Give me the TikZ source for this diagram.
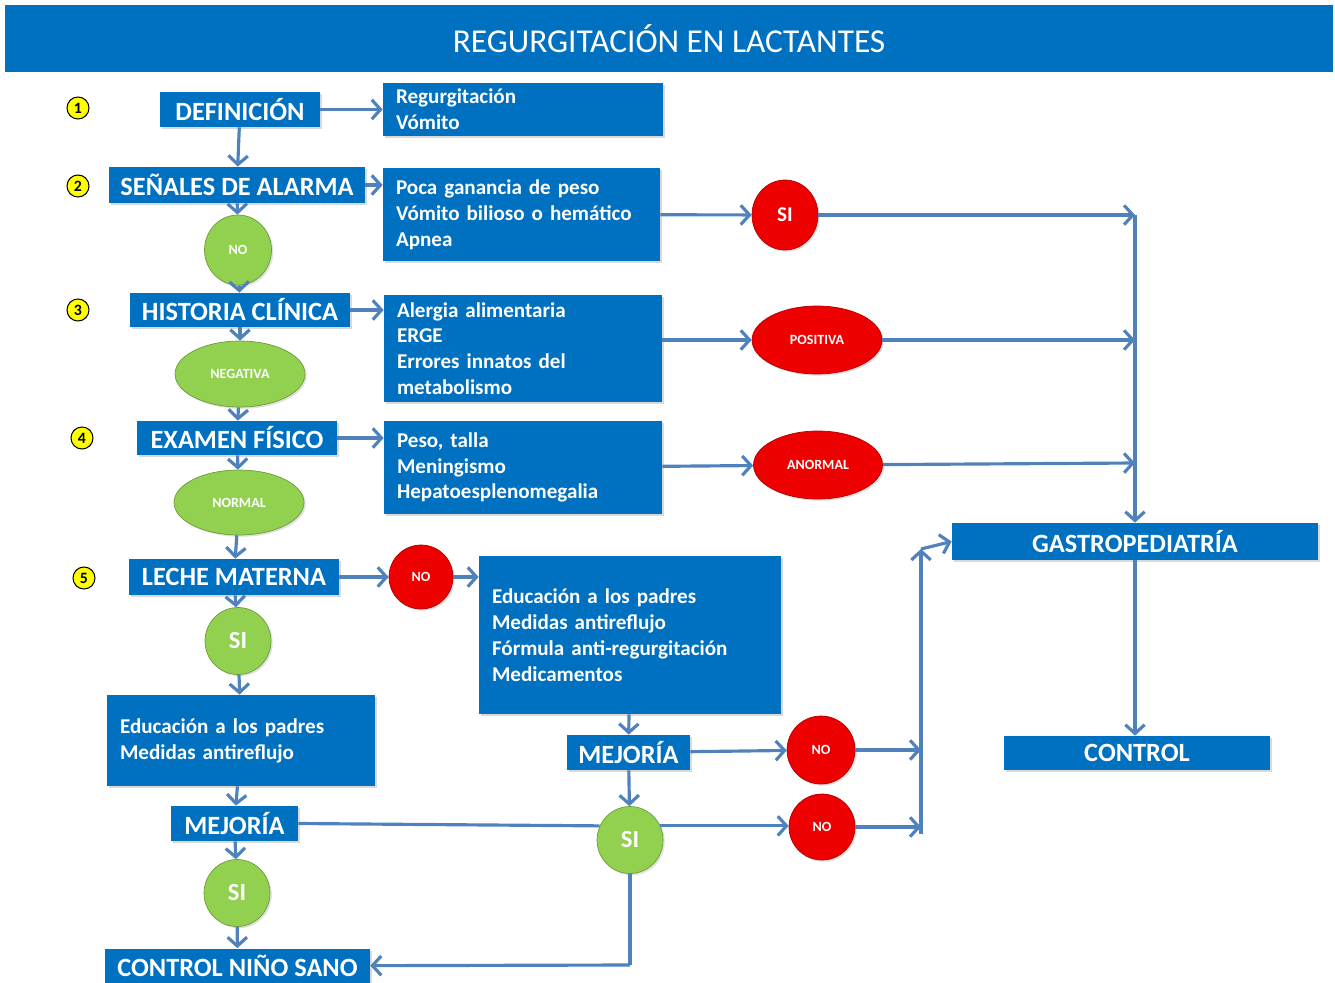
\documentclass[tikz,border=0pt]{standalone}
\usepackage{fontspec}
\setmainfont{Carlito}
\usetikzlibrary{arrows.meta,shapes.geometric,shadows}
\definecolor{boxblue}{RGB}{0,112,192}
\definecolor{arrblue}{RGB}{79,129,189}
\definecolor{okgreen}{RGB}{146,208,80}
\definecolor{badred}{RGB}{238,0,0}
\definecolor{numyellow}{RGB}{255,255,0}
\begin{document}
\begin{tikzpicture}[x=0.02cm,y=-0.02cm,
    hdr/.style={fill=boxblue,text=white,inner sep=0pt,font=\bfseries\fontsize{15}{18}\selectfont,
      drop shadow={shadow xshift=1.2pt,shadow yshift=-1.2pt,opacity=0.3}},
    lst/.style={fill=boxblue,text=white,inner ysep=0pt,inner xsep=0.26cm,align=left,
      font=\bfseries\fontsize{12}{14.7}\selectfont,
      drop shadow={shadow xshift=1.2pt,shadow yshift=-1.2pt,opacity=0.3}},
    yes/.style={ellipse,fill=okgreen,draw=okgreen!75!black,inner sep=0pt,text=white,
      drop shadow={shadow xshift=1pt,shadow yshift=-1pt,opacity=0.25}},
    nope/.style={ellipse,fill=badred,draw=badred!75!black,inner sep=0pt,text=white,
      drop shadow={shadow xshift=1pt,shadow yshift=-1pt,opacity=0.25}},
    num/.style={circle,fill=numyellow,draw=black,line width=0.6pt,inner sep=0pt,minimum size=0.44cm,
      font=\bfseries\fontsize{9}{9}\selectfont},
    arr/.style={draw=arrblue,line width=1.8pt,-{Straight Barb[length=5pt,width=11pt]}},
    lin/.style={draw=arrblue,line width=1.8pt},
    small/.style={font=\bfseries\fontsize{8}{8}\selectfont}]

    \useasboundingbox (0,0) rectangle (1335,983);

    \node[fill=boxblue,text=white,minimum width=26.56cm,minimum height=1.34cm,
      font=\fontsize{19}{22}\selectfont] (title) at (669,38.5) {REGURGITACIÓN EN LACTANTES};

    \node[num] (n1) at (78,108) {1};
    \node[num] (n2) at (78,186) {2};
    \node[num] (n3) at (78,310) {3};
    \node[num] (n4) at (82,438) {4};
    \node[num] (n5) at (84,578) {5};

    \node[hdr,minimum width=3.2cm,minimum height=0.7cm] (def) at (240,109.5) {DEFINICIÓN};
    \node[lst,text width=5.08cm,minimum height=1.06cm] (defl) at (523,109.5) {Regurgitación\\Vómito};

    \node[hdr,minimum width=5.12cm,minimum height=0.72cm] (alarm) at (237,185) {SEÑALES DE ALARMA};
    \node[lst,text width=5.02cm,minimum height=1.86cm] (alarml) at (521.5,214.5)
      {Poca ganancia de peso\\Vómito bilioso o hemático\\Apnea};
    \node[yes,small,minimum width=1.34cm,minimum height=1.4cm] (no1) at (238,250) {NO};

    \node[hdr,minimum width=4.4cm,minimum height=0.68cm] (hist) at (240,310) {HISTORIA CLÍNICA};
    \node[lst,text width=5.04cm,minimum height=2.14cm] (histl) at (523,348.5)
      {Alergia alimentaria\\ERGE\\Errores innatos del\\metabolismo};
    \node[yes,small,minimum width=2.6cm,minimum height=1.32cm] (neg) at (240,374) {NEGATIVA};

    \node[hdr,minimum width=4cm,minimum height=0.68cm] (exam) at (237,438) {EXAMEN FÍSICO};
    \node[lst,text width=5.04cm,minimum height=1.86cm] (examl) at (523,467.5)
      {Peso, talla\\Meningismo\\Hepatoesplenomegalia};
    \node[yes,small,minimum width=2.6cm,minimum height=1.3cm] (norm) at (239,502.5) {NORMAL};

    \node[hdr,minimum width=4.2cm,minimum height=0.72cm] (milk) at (234,577) {LECHE MATERNA};
    \node[nope,small,minimum width=1.28cm,minimum height=1.28cm] (no2) at (421,577) {NO};
    \node[lst,text width=5.52cm,minimum height=3.16cm] (treat) at (630,635)
      {Educación a los padres\\Medidas antireflujo\\Fórmula anti-regurgitación\\Medicamentos};
    \node[yes,font=\bfseries\fontsize{14}{14}\selectfont,minimum width=1.32cm,minimum height=1.34cm] (si1) at (238,641) {SI};

    \node[lst,text width=4.84cm,minimum height=1.82cm] (edu) at (241,740.5)
      {Educación a los padres\\Medidas antireflujo};
    \node[hdr,minimum width=2.54cm,minimum height=0.7cm] (mej1) at (234.5,823.5) {MEJORÍA};
    \node[yes,font=\bfseries\fontsize{14}{14}\selectfont,minimum width=1.32cm,minimum height=1.34cm] (si2) at (237,893) {SI};
    \node[hdr,minimum width=5.3cm,minimum height=0.7cm] (sano) at (237.5,966) {CONTROL NIÑO SANO};

    \node[hdr,minimum width=2.46cm,minimum height=0.7cm] (mej2) at (628.5,752.5) {MEJORÍA};
    \node[yes,font=\bfseries\fontsize{14}{14}\selectfont,minimum width=1.32cm,minimum height=1.34cm] (si3) at (630,840) {SI};
    \node[nope,small,minimum width=1.36cm,minimum height=1.36cm] (no3) at (821,750) {NO};
    \node[nope,small,minimum width=1.32cm,minimum height=1.32cm] (no4) at (822,827) {NO};

    \node[nope,font=\bfseries\fontsize{12}{12}\selectfont,minimum width=1.32cm,minimum height=1.4cm] (si4) at (785,215) {SI};
    \node[nope,small,minimum width=2.6cm,minimum height=1.36cm] (pos) at (817,340) {POSITIVA};
    \node[nope,small,minimum width=2.58cm,minimum height=1.36cm] (abn) at (818,465) {ANORMAL};

    \node[hdr,minimum width=7.32cm,minimum height=0.74cm] (gastro) at (1135,541.5) {GASTROPEDIATRÍA};
    \node[hdr,minimum width=5.32cm,minimum height=0.68cm] (ctrl) at (1137,753) {CONTROL};

    \coordinate (j1) at (1135,215);
    \coordinate (j2) at (1135,340);
    \coordinate (j3) at (1135,463);
    \coordinate (k0) at (921,834);
    \coordinate (k1) at (921,750);
    \coordinate (k2) at (921,827);
    \coordinate (k3) at (921,549);
    \coordinate (m1) at (630,965);

    \draw[arr] (def) -- (alarm);
    \draw[arr] (alarm) -- (no1);
    \draw[arr] (no1) -- (hist);
    \draw[arr] (hist) -- (neg);
    \draw[arr] (neg) -- (exam);
    \draw[arr] (exam) -- (norm);
    \draw[arr] (norm) -- (milk);
    \draw[arr] (milk) -- (si1);
    \draw[arr] (si1) -- (edu);
    \draw[arr] (edu) -- (mej1);
    \draw[arr] (mej1) -- (si2);
    \draw[arr] (si2) -- (sano);

    \draw[arr] (def) -- (defl);
    \draw[arr] (alarm.east) -- (alarm.east -| alarml.west);
    \draw[arr] (hist.east) -- (hist.east -| histl.west);
    \draw[arr] (exam.east) -- (exam.east -| examl.west);

    \draw[arr] (alarml) -- (si4);
    \draw[arr] (histl.east |- pos) -- (pos);
    \draw[arr] (examl) -- (abn);
    \draw[arr] (si4) -- (j1);
    \draw[arr] (pos) -- (j2);
    \draw[arr] (abn) -- (j3);
    \draw[arr] (j1) -- (gastro.north);
    \draw[arr] (gastro.south) -- (gastro.south |- ctrl.north);

    \draw[arr] (milk) -- (no2);
    \draw[arr] (no2) -- (no2 -| treat.west);
    \draw[arr] (treat) -- (mej2);
    \draw[arr] (mej2) -- (si3);
    \draw[arr] (mej2) -- (no3);
    \draw[arr] (si3.25) -- (si3.25 -| no4.west);
    \draw[arr] (no3) -- (k1);
    \draw[arr] (no4) -- (k2);
    \draw[arr] (k0) -- (k3);
    \draw[arr] (k3) -- (gastro.west);

    \draw[lin] (mej1.east) -- (si3.155);
    \draw[lin] (si3) -- (m1);
    \draw[arr] (m1) -- (sano);
\end{tikzpicture}
\end{document}
